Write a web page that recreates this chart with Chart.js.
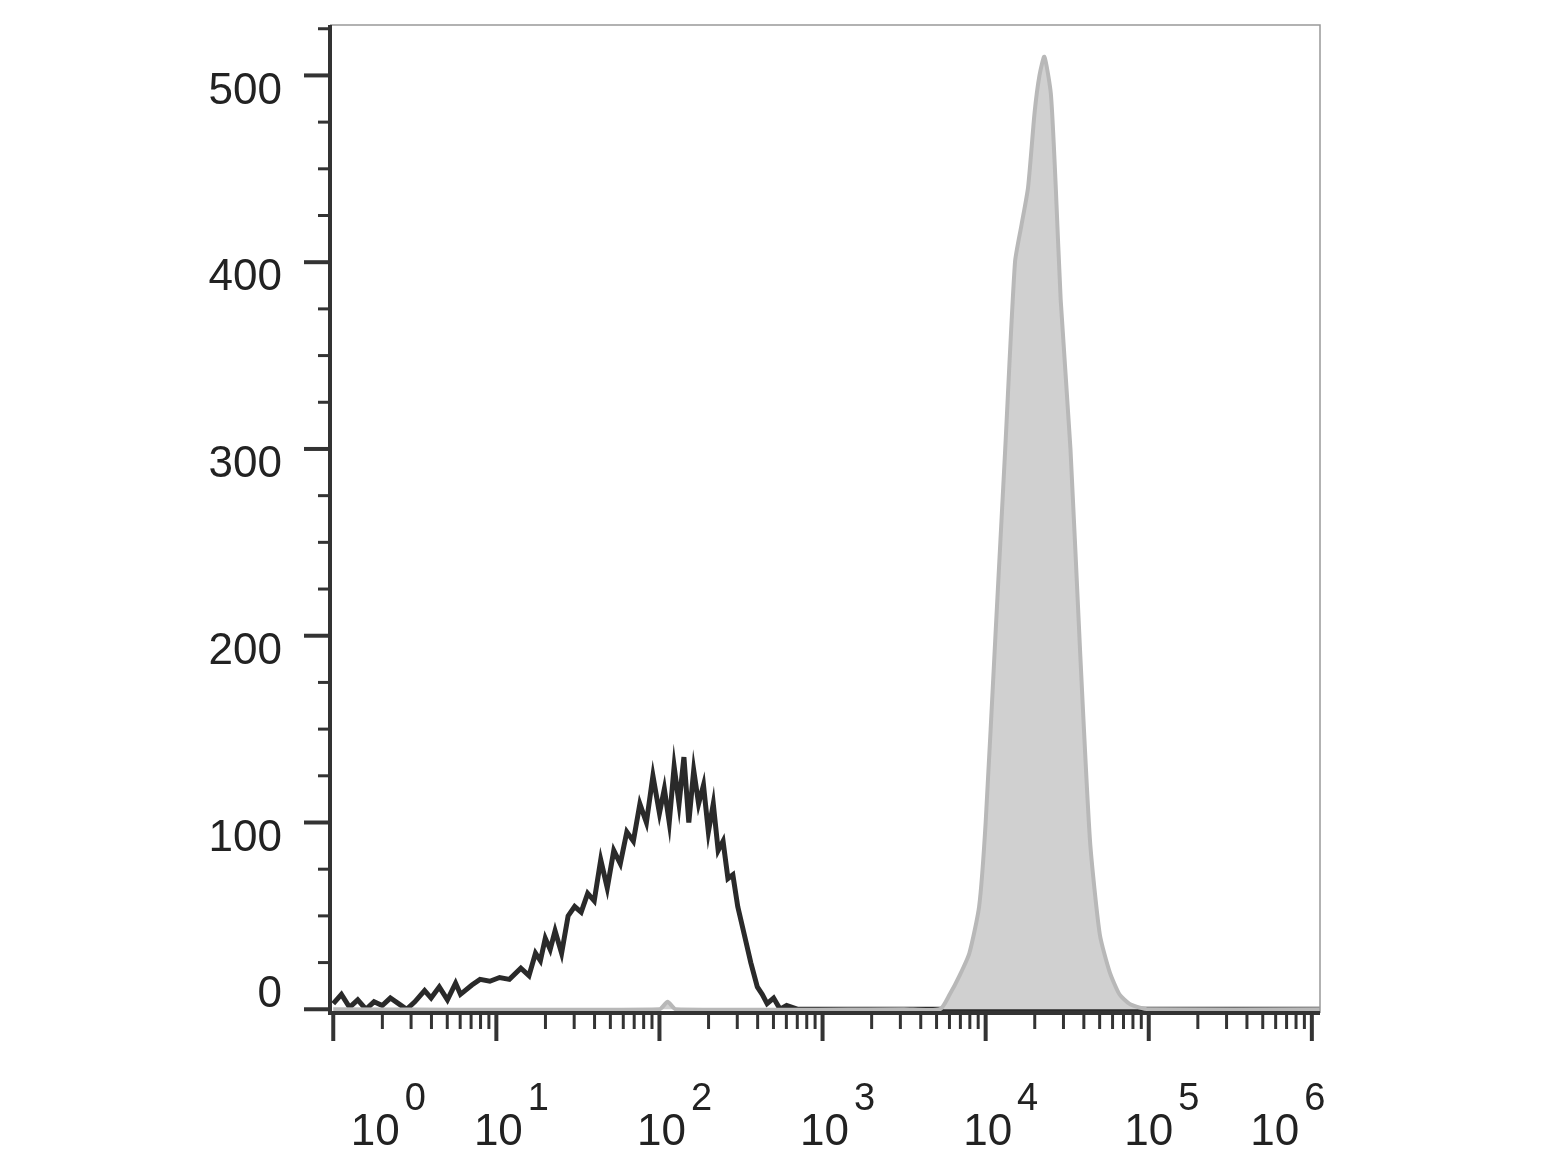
<!DOCTYPE html>
<html><head><meta charset="utf-8">
<script src="https://cdn.jsdelivr.net/npm/chart.js@4/dist/chart.umd.min.js"></script>
<style>html,body{margin:0;background:#fff}#w{width:1546px;height:1159px}</style>
</head><body><div id="w"><canvas id="c"></canvas></div>
<script>
const decadeLabels=['0','1','2','3','4','5','6'];
const blackX=[0,0.05,0.1,0.15,0.2,0.25,0.3,0.35,0.4,0.45,0.5,0.56,0.6,0.65,0.7,0.75,0.78,0.85,0.9,0.96,1.02,1.08,1.15,1.2,1.24,1.27,1.3,1.33,1.36,1.4,1.44,1.48,1.52,1.56,1.6,1.64,1.68,1.72,1.76,1.8,1.84,1.88,1.92,1.96,2.0,2.03,2.06,2.09,2.12,2.15,2.18,2.21,2.24,2.27,2.3,2.33,2.36,2.39,2.42,2.45,2.48,2.52,2.56,2.6,2.63,2.66,2.7,2.74,2.78,2.85,3,4,5,6.05];
const blackY=[3,8,1,5,0,4,2,6,3,0,4,10,6,12,5,14,8,13,16,15,17,16,22,18,30,26,38,32,42,30,50,55,52,62,58,80,65,85,78,95,90,110,100,125,105,118,100,130,110,135,100,128,110,120,95,110,85,90,70,72,55,40,25,12,8,3,6,0,2,0,0,0,0,0];
const grayX=[0,2.0,2.05,2.1,3.5,3.72,3.78,3.84,3.9,3.96,4.0,4.06,4.12,4.18,4.22,4.26,4.3,4.33,4.36,4.4,4.43,4.46,4.52,4.58,4.64,4.7,4.76,4.82,4.88,4.94,5.0,6.05];
const grayY=[0,0,4,0,0,0,8,18,30,55,100,200,300,400,420,440,480,500,510,490,440,380,300,190,90,40,20,8,3,1,0,0];
const yTicks=[0,100,200,300,400,500];
const toPts=(xs,ys)=>xs.map((x,i)=>({x:x,y:ys[i]}));
const minorX=[];for(let n=0;n<7;n++)for(let k=1;k<10;k++){const v=n+Math.log10(k);if(v<=6.05)minorX.push(v);}
const axisPlugin={id:'ax',afterDraw(ch){
 const c=ch.ctx,x=ch.scales.x,y=ch.scales.y,a=ch.chartArea;
 c.save();
 c.strokeStyle='#999';c.lineWidth=1.5;c.beginPath();c.moveTo(a.left,a.top);c.lineTo(a.right,a.top);c.lineTo(a.right,a.bottom);c.stroke();
 c.strokeStyle='#333';c.lineWidth=4;c.beginPath();c.moveTo(a.left,a.top);c.lineTo(a.left,a.bottom);c.lineTo(a.right,a.bottom);c.stroke();
 for(const v of minorX){const px=x.getPixelForValue(v);const maj=Math.abs(v-Math.round(v))<1e-9;
  c.lineWidth=maj?4:3;c.beginPath();c.moveTo(px,a.bottom);c.lineTo(px,a.bottom+(maj?28:16));c.stroke();}
 for(let v=0;v<=525;v+=25){const py=y.getPixelForValue(v);const maj=v%100===0;
  c.lineWidth=maj?4:3;c.beginPath();c.moveTo(a.left,py);c.lineTo(a.left-(maj?26:12),py);c.stroke();}
 c.fillStyle='#222';c.font='44px Liberation Sans, Arial';c.textAlign='right';c.textBaseline='middle';
 for(const t of yTicks){c.fillText(String(t),a.left-48,y.getPixelForValue(t)+(t===0?-14:16));}
 c.textAlign='center';c.textBaseline='alphabetic';
 const offs=[42,2,2,2,2,0,-37];
 decadeLabels.forEach((s,i)=>{const px=x.getPixelForValue(i)+offs[i];
  c.font='44px Liberation Sans, Arial';c.fillText('10',px,1145);
  c.font='38px Liberation Sans, Arial';c.fillText(s,px+40,1110);});
 c.restore();}};
new Chart(document.getElementById('c'),{type:'scatter',
 data:{datasets:[
  {data:toPts(grayX,grayY),showLine:true,fill:'origin',backgroundColor:'#d0d0d0',borderColor:'#b8b8b8',borderWidth:4,pointRadius:0,tension:0.2},
  {data:toPts(blackX,blackY),showLine:true,fill:false,borderColor:'#2a2a2a',borderWidth:5,pointRadius:0}
 ]},
 options:{responsive:true,maintainAspectRatio:false,animation:false,
  layout:{padding:{left:330,right:226,top:25,bottom:146}},
  plugins:{legend:{display:false},tooltip:{enabled:false}},
  scales:{x:{type:'linear',min:-0.02,max:6.05,display:false},
          y:{type:'linear',min:-2,max:527,display:false}}},
 plugins:[axisPlugin]});
</script></body></html>
